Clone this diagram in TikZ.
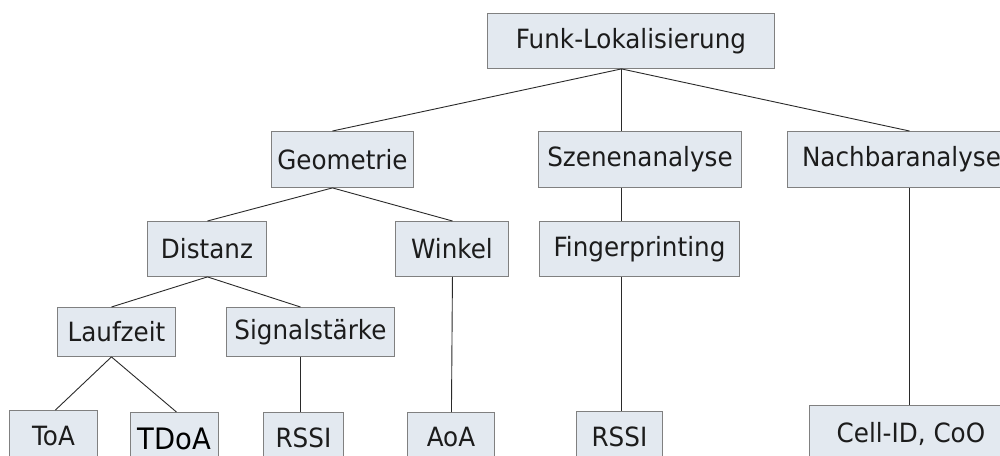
\documentclass[tikz,border=0pt]{standalone}
\usepackage{fontspec}
\setmainfont{DejaVu Sans}[FakeStretch=0.93]
\usetikzlibrary{calc}
\definecolor{boxfill}{HTML}{E3E9F0}
\definecolor{boxline}{HTML}{808080}
\definecolor{txt}{HTML}{1C1C1C}
\definecolor{edgecol}{HTML}{2A2A2A}
\tikzset{
  boxnode/.style={draw=boxline, fill=boxfill, line width=0.9pt, inner sep=0pt,
    anchor=north west, text=txt, font=\fontsize{26.5}{30}\selectfont},
  edge/.style={draw=edgecol, line width=0.9pt},
}
% \mybox{name}{x1}{y1}{x2}{y2}{text}
\newcommand\mybox[6]{%
  \node[boxnode, minimum width=#4pt-#2pt, minimum height=#5pt-#3pt] (#1) at (#2pt,-#3pt) {#6};}
\begin{document}
\begin{tikzpicture}
\useasboundingbox (0,0) rectangle (1000pt,-455pt);
\clip (0,0) rectangle (1000pt,-455pt);
\fill[white] (0,0) rectangle (1000pt,-455pt);
\mybox{funk}{487}{13}{774}{68}{Funk-Lokalisierung}
\mybox{geo}{271}{131}{413}{187}{Geometrie}
\mybox{szen}{538}{131}{741}{187}{Szenenanalyse}
\mybox{nach}{787}{131}{1015}{187}{Nachbaranalyse}
\mybox{dist}{147}{221}{266}{276}{Distanz}
\mybox{wink}{395}{221}{508}{276}{Winkel}
\mybox{fing}{539}{221}{739}{276}{Fingerprinting}
\mybox{lauf}{57}{307}{175}{356}{Laufzeit}
\mybox{sig}{226}{307}{394}{356}{Signalstärke}
\mybox{toa}{9}{410}{97}{462}{ToA}
\node[boxnode, minimum width=88pt, minimum height=52pt, text=black, font=\fontsize{29.5}{32}\selectfont] (tdoa) at (130pt,-412pt) {TDoA};
\mybox{rssia}{263}{412}{343}{462}{RSSI}
\mybox{aoa}{407}{412}{494}{462}{AoA}
\mybox{rssib}{576}{411}{662}{462}{RSSI}
\mybox{cell}{809}{405}{1012}{462}{Cell-ID, CoO}
% connectors
\draw[edge] ([xshift=-9.5pt]funk.south) -- ([xshift=-10pt]geo.north);
\draw[edge] ([xshift=-9.5pt]funk.south) -- ([xshift=-18.5pt]szen.north);
\draw[edge] ([xshift=-9.5pt]funk.south) -- ([xshift=8pt]nach.north);
\draw[edge] ([xshift=-10pt]geo.south) -- ([xshift=0.5pt]dist.north);
\draw[edge] ([xshift=-10pt]geo.south) -- ([xshift=0.5pt]wink.north);
\draw[edge] ([xshift=-18.5pt]szen.south) -- ([xshift=-18pt]fing.north);
\draw[edge] ([xshift=0.5pt]dist.south) -- ([xshift=-5pt]lauf.north);
\draw[edge] ([xshift=0.5pt]dist.south) -- ([xshift=-10pt]sig.north);
\draw[edge] ([xshift=-5pt]lauf.south) -- ([xshift=2pt]toa.north);
\draw[edge] ([xshift=-5pt]lauf.south) -- ([xshift=2pt]tdoa.north);
\draw[edge] ([xshift=-10pt]sig.south) -- ([xshift=-3pt]rssia.north);
\draw[edge] ([xshift=0.5pt]wink.south) -- ([xshift=0.5pt]aoa.north);
\draw[edge] ([xshift=-18pt]fing.south) -- ([xshift=2pt]rssib.north);
\draw[edge] ([xshift=8pt]nach.south) -- ([xshift=-1.5pt]cell.north);
\end{tikzpicture}
\end{document}
